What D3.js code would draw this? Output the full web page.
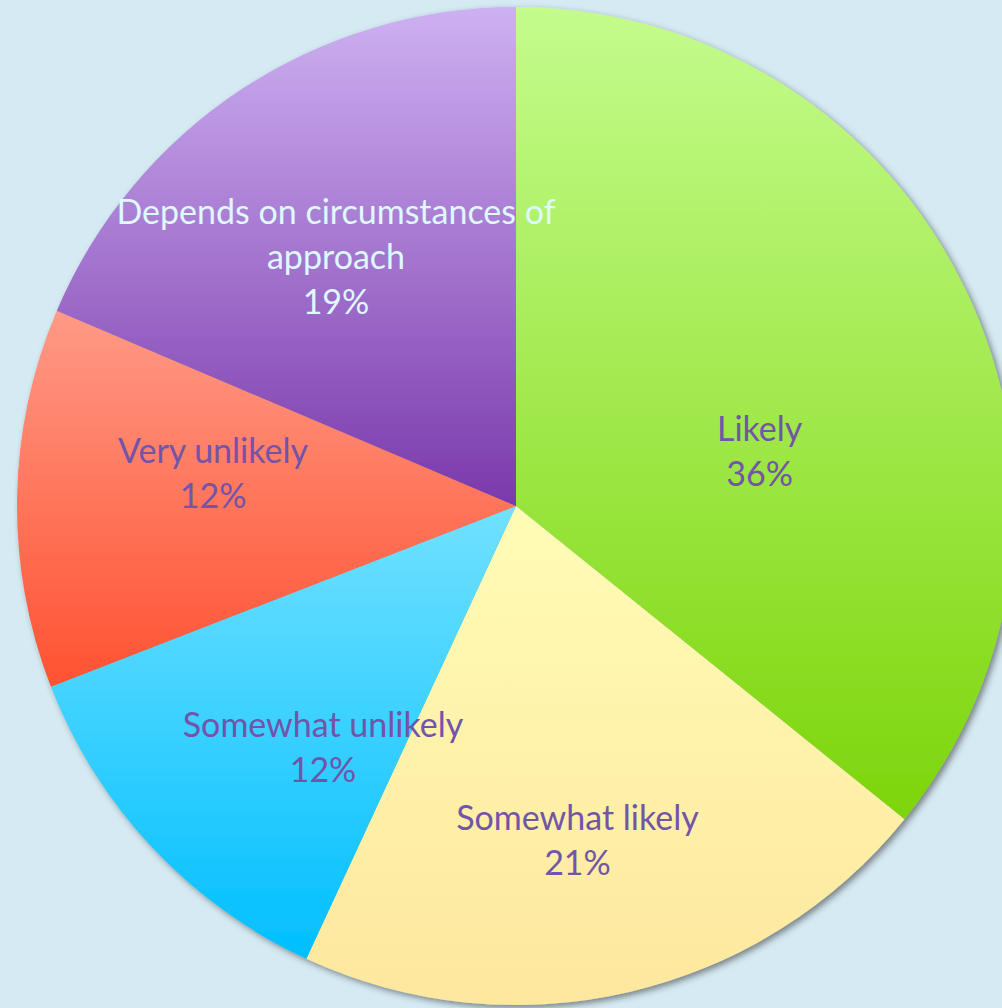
<!DOCTYPE html>
<html>
<head>
<meta charset="utf-8">
<script src="https://cdn.jsdelivr.net/npm/d3@7"></script>
<style>
  html, body { margin: 0; padding: 0; background: #d5eaf3; }
  svg { display: block; }
</style>
</head>
<body>
<div id="chart"></div>
<script>
// chart data (shares, shown rounded)
const categories = ['Likely', 'Somewhat likely', 'Somewhat unlikely', 'Very unlikely', 'Depends on circumstances of approach'];
const labelLines = [['Likely'], ['Somewhat likely'], ['Somewhat unlikely'], ['Very unlikely'], ['Depends on circumstances of', 'approach']];
const values = [35.8, 21.1, 12.2, 12.3, 18.6];

// gradient colours (top, bottom) per slice
const topColors = ['#c4fc8d', '#fffcb6', '#72e1ff', '#ff9a86', '#ceb1f2'];
const bottomColors = ['#7dd50a', '#fee79e', '#00bfff', '#ff5232', '#7a39ab'];
const textColors = ['#7254a8', '#7254a8', '#7254a8', '#7254a8', '#def9ff'];

// label nudges from the arc centroid, like the hand-placed office labels
const labelNudge = [[-36, 77], [-9, 31], [33, 27], [7, -30], [-9, 8]];

const width = 1002;
const height = 1008;
const cx = 516;
const cy = 506;
const radius = 499;

const svg = d3.select('#chart')
    .append('svg')
    .attr('width', width)
    .attr('height', height);

svg.append('rect')
    .attr('width', width)
    .attr('height', height)
    .attr('fill', '#d5eaf3');

const defs = svg.append('defs');

const shadow = defs.append('filter')
    .attr('id', 'shadow')
    .attr('x', '-10%').attr('y', '-10%')
    .attr('width', '120%').attr('height', '120%');
shadow.append('feDropShadow')
    .attr('dx', 3)
    .attr('dy', 3)
    .attr('stdDeviation', 3)
    .attr('flood-color', '#333')
    .attr('flood-opacity', 0.55);

categories.forEach((c, i) => {
    const g = defs.append('linearGradient')
        .attr('id', 'grad' + i)
        .attr('x1', 0).attr('y1', 0)
        .attr('x2', 0).attr('y2', 1);
    g.append('stop').attr('offset', '0%').attr('stop-color', topColors[i]);
    g.append('stop').attr('offset', '100%').attr('stop-color', bottomColors[i]);
});

const pie = d3.pie().sort(null).value((d) => d)(values);

const arc = d3.arc().innerRadius(0).outerRadius(radius);
const labelArc = d3.arc().innerRadius(310).outerRadius(310);

const root = svg.append('g').attr('transform', `translate(${cx}, ${cy})`);

root.append('g')
    .attr('filter', 'url(#shadow)')
    .selectAll('path')
    .data(pie)
    .join('path')
    .attr('d', arc)
    .attr('fill', (d, i) => `url(#grad${i})`);

const lineH = 45;
const labels = root.append('g')
    .selectAll('text')
    .data(pie)
    .join('text')
    .attr('transform', (d, i) => {
        const [x, y] = labelArc.centroid(d);
        return `translate(${x + labelNudge[i][0]}, ${y + labelNudge[i][1]})`;
    })
    .attr('text-anchor', 'middle')
    .attr('dominant-baseline', 'central')
    .style('font-family', 'Lato, "Noto Sans", sans-serif')
    .style('font-size', '34px')
    .attr('fill', (d, i) => textColors[i]);

labels.each(function (d, i) {
    const lines = labelLines[i].concat([d3.format('.0%')(Math.round(d.value) / 100)]);
    const n = lines.length;
    d3.select(this)
        .selectAll('tspan')
        .data(lines)
        .join('tspan')
        .attr('x', 0)
        .attr('y', (t, j) => (j - (n - 1) / 2) * lineH)
        .text((t) => t);
});
</script>
</body>
</html>
